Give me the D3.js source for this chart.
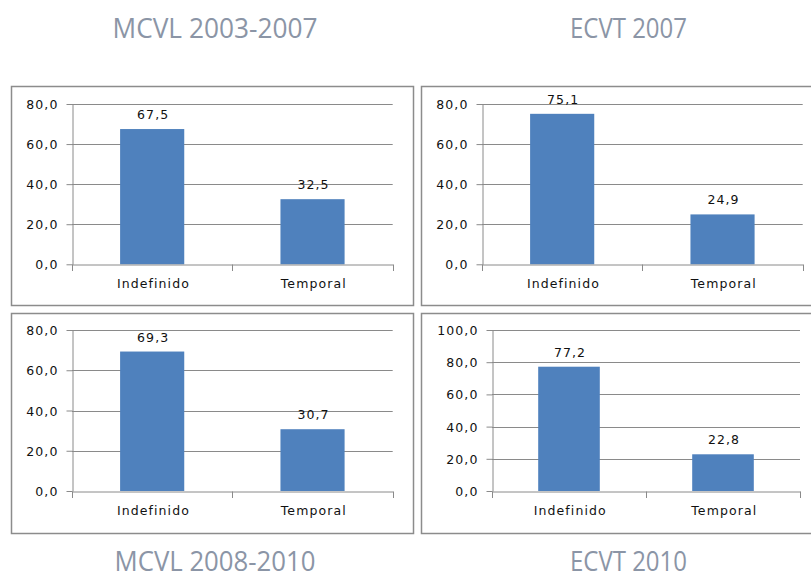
<!DOCTYPE html>
<html>
<head>
<meta charset="utf-8">
<script src="https://cdn.jsdelivr.net/npm/d3@7"></script>
<style>
  body { margin: 0; background: #fff; }
  .tick text, .lbl { font-family: "DejaVu Sans", sans-serif; font-size: 12.5px; fill: #111; letter-spacing: 1.1px; }
  .title { font-family: "Open Sans", sans-serif; font-size: 27px; fill: #8b95a6; }
</style>
</head>
<body>
<div id="chart"></div>
<script>
// Data
const categories = ["Indefinido", "Temporal"];
const panelTitles = ["MCVL 2003-2007", "ECVT 2007", "MCVL 2008-2010", "ECVT 2010"];
const indefinido = [67.5, 75.1, 69.3, 77.2];
const temporal = [32.5, 24.9, 30.7, 22.8];
const yMax = [80, 80, 80, 100];

// Layout of the four boxes (box + inner plot area)
const layout = [
  { bx: 11,  by: 86,  bw: 402, bh: 219, left: 72,  right: 392.7, top: 104, bottom: 264.3, tx: 215, ty: 38,  tl: 205 },
  { bx: 421, by: 86,  bw: 400, bh: 219, left: 482, right: 802.7, top: 104, bottom: 264.3, tx: 628.5, ty: 38, tl: 117 },
  { bx: 11,  by: 313, bw: 402, bh: 220, left: 72,  right: 392.7, top: 330, bottom: 491,   tx: 215, ty: 571, tl: 201 },
  { bx: 421, by: 313, bw: 400, bh: 220, left: 492, right: 800,   top: 330, bottom: 491,   tx: 628.5, ty: 571, tl: 117 }
];

const fmt = v => d3.format(".1f")(v).replace(".", ",");
const gridColor = "#8a8a8a";

let svg = d3.select("#chart")
  .append("svg")
  .attr("width", 811)
  .attr("height", 578);

layout.forEach(function(p, i) {
  let g = svg.append("g").attr("class", "panel");
  let values = [indefinido[i], temporal[i]];

  // box
  g.append("rect")
    .attr("x", p.bx + 0.5).attr("y", p.by + 0.5)
    .attr("width", p.bw).attr("height", p.bh)
    .attr("fill", "none")
    .attr("stroke", "#8c8c8c")
    .attr("stroke-width", 1.5);

  // title
  svg.append("text")
    .attr("class", "title")
    .attr("x", p.tx).attr("y", p.ty)
    .attr("text-anchor", "middle")
    .attr("textLength", p.tl)
    .attr("lengthAdjust", "spacingAndGlyphs")
    .text(panelTitles[i]);

  // scales
  let x = d3.scaleBand()
    .domain(categories)
    .range([p.left, p.right])
    .paddingInner(0.6)
    .paddingOuter(0.3);

  let y = d3.scaleLinear()
    .domain([0, yMax[i]])
    .range([p.bottom, p.top]);

  let ticks = d3.range(0, yMax[i] + 1, 20);

  // gridlines
  g.append("g")
    .selectAll("line")
    .data(ticks.filter(d => d > 0))
    .join("line")
      .attr("x1", p.left).attr("x2", p.right)
      .attr("y1", d => Math.round(y(d)) + 0.5)
      .attr("y2", d => Math.round(y(d)) + 0.5)
      .attr("stroke", gridColor);

  // y axis
  let yAxis = d3.axisLeft(y)
    .tickValues(ticks)
    .tickSize(6)
    .tickSizeOuter(0)
    .tickPadding(8)
    .tickFormat(fmt);

  let yAxisEl = g.append("g")
    .attr("transform", "translate(" + (Math.round(p.left) + 0.5) + ",0)")
    .call(yAxis);
  yAxisEl.selectAll("line, path").attr("stroke", gridColor);
  yAxisEl.selectAll("text").attr("dy", "0.36em");

  // bars
  g.append("g")
    .selectAll("rect")
    .data(values)
    .join("rect")
      .attr("x", (d, j) => x(categories[j]))
      .attr("y", d => y(d))
      .attr("width", x.bandwidth())
      .attr("height", d => y(0) - y(d))
      .attr("fill", "#4f81bd");

  // value labels
  g.append("g")
    .selectAll("text")
    .data(values)
    .join("text")
      .attr("class", "lbl")
      .attr("x", (d, j) => x(categories[j]) + x.bandwidth() / 2 + 1)
      .attr("y", d => y(d) - 10)
      .attr("text-anchor", "middle")
      .text(fmt);

  // x axis (labels at band centres, tick marks at band edges)
  let xAxis = d3.axisBottom(x).tickSize(0).tickPadding(15);
  let xAxisEl = g.append("g")
    .attr("transform", "translate(0," + (Math.round(p.bottom) + 0.5) + ")")
    .call(xAxis);
  xAxisEl.select("path").attr("stroke", gridColor);
  xAxisEl.selectAll("text").attr("dy", "0.71em").attr("dx", "0.1em");

  g.append("g")
    .selectAll("line")
    .data(d3.range(categories.length + 1))
    .join("line")
      .attr("x1", d => Math.round(p.left + d * x.step()) + 0.5)
      .attr("x2", d => Math.round(p.left + d * x.step()) + 0.5)
      .attr("y1", Math.round(p.bottom) + 0.5)
      .attr("y2", Math.round(p.bottom) + 7)
      .attr("stroke", gridColor);
});
</script>
</body>
</html>
